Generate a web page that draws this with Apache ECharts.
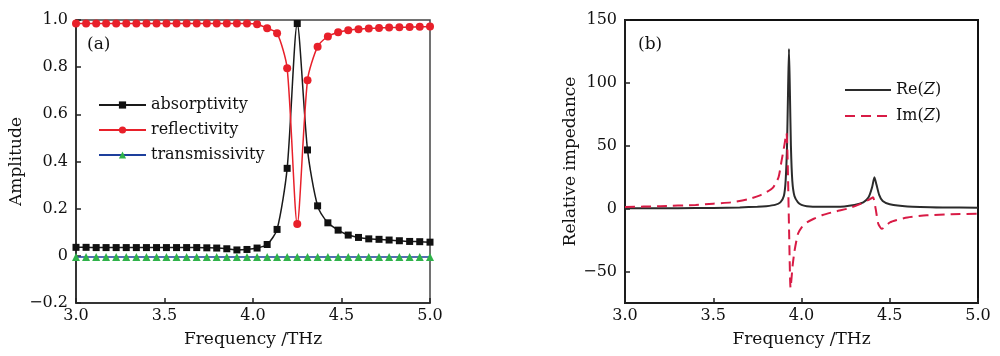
<!DOCTYPE html>
<html>
<head>
<meta charset="utf-8">
<script src="https://cdn.jsdelivr.net/npm/echarts@6/dist/echarts.min.js"></script>
<style>
  html, body { margin: 0; padding: 0; background: #fff; }
  #chart { width: 1000px; height: 356px; }
</style>
</head>
<body>
<div id="chart"></div>
<script>
// panel (a): sampled spectrum with markers
var freqA = [3.000, 3.057, 3.114, 3.170, 3.227, 3.284, 3.341, 3.398, 3.455, 3.511,
             3.568, 3.625, 3.682, 3.739, 3.795, 3.852, 3.909, 3.966, 4.023, 4.080,
             4.136, 4.193, 4.250, 4.308, 4.365, 4.423, 4.481, 4.538, 4.596, 4.654,
             4.712, 4.769, 4.827, 4.885, 4.942, 5.000];
var absorptivity = [0.036, 0.036, 0.035, 0.035, 0.035, 0.035, 0.035, 0.035, 0.035, 0.035,
                    0.035, 0.035, 0.035, 0.034, 0.033, 0.030, 0.025, 0.027, 0.033, 0.048,
                    0.112, 0.371, 0.985, 0.449, 0.212, 0.140, 0.109, 0.088, 0.078, 0.072,
                    0.070, 0.067, 0.064, 0.061, 0.060, 0.058];
var reflectivity = [0.985, 0.985, 0.985, 0.985, 0.985, 0.985, 0.985, 0.985, 0.985, 0.985,
                    0.985, 0.985, 0.985, 0.985, 0.985, 0.985, 0.985, 0.985, 0.982, 0.965,
                    0.944, 0.795, 0.135, 0.745, 0.887, 0.930, 0.948, 0.957, 0.961, 0.964,
                    0.966, 0.968, 0.969, 0.970, 0.971, 0.972];
var transmissivity = [-0.005, -0.005, -0.005, -0.005, -0.005, -0.005, -0.005, -0.005, -0.005, -0.005,
                      -0.005, -0.005, -0.005, -0.005, -0.005, -0.005, -0.005, -0.005, -0.005, -0.005,
                      -0.005, -0.005, -0.005, -0.005, -0.005, -0.005, -0.005, -0.005, -0.005, -0.005,
                      -0.005, -0.005, -0.005, -0.005, -0.005, -0.005];

// panel (b): relative impedance
var freqRe = [3.00, 3.30, 3.50, 3.65, 3.75, 3.80, 3.85, 3.88, 3.90, 3.910, 3.918, 3.924,
              3.929, 3.934, 3.940, 3.948, 3.960, 3.980, 4.00, 4.03, 4.10, 4.20, 4.30, 4.35,
              4.38, 4.40, 4.413, 4.425, 4.44, 4.46, 4.50, 4.60, 4.80, 5.00];
var reZ = [0.3, 0.4, 0.6, 1.0, 1.5, 2.0, 3.0, 5.0, 10, 22, 50, 95,
           127, 95, 50, 22, 10, 5.0, 3.0, 2.0, 1.5, 1.5, 3.0, 5.0,
           9, 17, 25, 19, 11, 6, 3.5, 1.8, 1.0, 0.7];
var freqIm = [3.00, 3.20, 3.40, 3.50, 3.60, 3.70, 3.765, 3.80, 3.84, 3.87, 3.887, 3.90,
              3.915, 3.922, 3.930, 3.938, 3.950, 3.960, 3.980, 4.00, 4.03, 4.07, 4.12, 4.20,
              4.26, 4.32, 4.38, 4.405, 4.42, 4.435, 4.455, 4.50, 4.54, 4.60, 4.71, 4.85, 5.00];
var imZ = [1.3, 2.0, 3.0, 4.0, 5.0, 7.5, 10.6, 13, 17, 25, 38, 48,
           60, 35, -20, -63, -45, -34, -20, -15, -11, -8, -5, -2,
           0, 3, 7, 9, 0, -12, -16, -11, -9, -7, -5.3, -4.5, -4.0];

var serif = 'DejaVu Serif';

function pairs(xs, ys) {
  return xs.map(function (x, i) { return [x, ys[i]]; });
}

var myChart = echarts.init(document.getElementById('chart'));

var axisCommon = {
  axisLine: { show: true, onZero: false, lineStyle: { color: '#222', width: 1.5 } },
  axisTick: { show: true, inside: true, length: 5, lineStyle: { color: '#222', width: 1.5 } },
  splitLine: { show: false },
  axisLabel: { color: '#111', fontFamily: serif, fontSize: 16 },
  nameTextStyle: { color: '#111', fontFamily: serif, fontSize: 17 }
};

var option = {
  animation: false,
  backgroundColor: '#fff',
  title: [
    { text: '(a)', left: 82, top: 31, textStyle: { fontFamily: serif, fontSize: 17, fontWeight: 'normal', color: '#111' } },
    { text: '(b)', left: 633, top: 31, textStyle: { fontFamily: serif, fontSize: 17, fontWeight: 'normal', color: '#111' } }
  ],
  grid: [
    { left: 76, top: 20, width: 354, height: 283, show: true, borderColor: '#444', borderWidth: 1.5 },
    { left: 625, top: 20, width: 353, height: 283, show: true, borderColor: '#111', borderWidth: 2 }
  ],
  legend: [
    {
      orient: 'vertical', left: 93, top: 92, itemWidth: 47, itemHeight: 9, itemGap: 9,
      data: ['absorptivity', 'reflectivity', 'transmissivity'],
      textStyle: { fontFamily: serif, fontSize: 16, color: '#111' }
    },
    {
      orient: 'vertical', left: 839, top: 77, itemWidth: 46, itemHeight: 10, itemGap: 10,
      data: ['Re(Z)', 'Im(Z)'],
      itemStyle: { opacity: 0 },
      formatter: function (name) { return name.slice(0, 2) + '({z|Z})'; },
      textStyle: {
        fontFamily: serif, fontSize: 16, color: '#111',
        rich: { z: { fontFamily: serif, fontSize: 16, fontStyle: 'italic', color: '#111' } }
      }
    }
  ],
  xAxis: [
    Object.assign({}, axisCommon, {
      type: 'value', gridIndex: 0, min: 3, max: 5, interval: 0.5,
      name: 'Frequency /THz', nameLocation: 'middle', nameGap: 28,
      axisLabel: Object.assign({}, axisCommon.axisLabel, { margin: 5, formatter: function (v) { return v.toFixed(1); } })
    }),
    Object.assign({}, axisCommon, {
      type: 'value', gridIndex: 1, min: 3, max: 5, interval: 0.5,
      name: 'Frequency /THz', nameLocation: 'middle', nameGap: 28,
      axisLabel: Object.assign({}, axisCommon.axisLabel, { margin: 5, formatter: function (v) { return v.toFixed(1); } })
    })
  ],
  yAxis: [
    Object.assign({}, axisCommon, {
      type: 'value', gridIndex: 0, min: -0.2, max: 1.0, interval: 0.2,
      name: 'Amplitude', nameLocation: 'middle', nameGap: 49,
      axisLabel: Object.assign({}, axisCommon.axisLabel, {
        margin: 8,
        formatter: function (v) {
          if (Math.abs(v) < 1e-9) return '0';
          return v.toFixed(1).replace('-', '\u2212');
        }
      })
    }),
    Object.assign({}, axisCommon, {
      type: 'value', gridIndex: 1, min: -75, max: 150, splitNumber: 5,
      name: 'Relative impedance', nameLocation: 'middle', nameGap: 46,
      axisLabel: Object.assign({}, axisCommon.axisLabel, {
        margin: 8, showMinLabel: false,
        formatter: function (v) {
          if (v === -75) return '';
          return String(v).replace('-', '\u2212');
        }
      })
    })
  ],
  series: [
    {
      name: 'absorptivity', type: 'line', xAxisIndex: 0, yAxisIndex: 0,
      data: pairs(freqA, absorptivity), smooth: 0.25,
      symbol: 'rect', symbolSize: 7,
      lineStyle: { color: '#1a1a1a', width: 1.5 },
      itemStyle: { color: '#111' }
    },
    {
      name: 'reflectivity', type: 'line', xAxisIndex: 0, yAxisIndex: 0,
      data: pairs(freqA, reflectivity), smooth: 0.25,
      symbol: 'circle', symbolSize: 8,
      lineStyle: { color: '#e8202a', width: 1.5 },
      itemStyle: { color: '#e8202a' }
    },
    {
      name: 'transmissivity', type: 'line', xAxisIndex: 0, yAxisIndex: 0,
      data: pairs(freqA, transmissivity),
      symbol: 'triangle', symbolSize: 8,
      lineStyle: { color: '#1d3f9c', width: 1.5 },
      itemStyle: { color: '#2fb24a' }
    },
    {
      name: 'Re(Z)', type: 'line', xAxisIndex: 1, yAxisIndex: 1,
      data: pairs(freqRe, reZ), smooth: 0.2, showSymbol: false, symbol: 'none',
      lineStyle: { color: '#2b2b2b', width: 2 },
      itemStyle: { color: '#2b2b2b' }
    },
    {
      name: 'Im(Z)', type: 'line', xAxisIndex: 1, yAxisIndex: 1,
      data: pairs(freqIm, imZ), smooth: 0.2, showSymbol: false, symbol: 'none',
      lineStyle: { color: '#d81b45', width: 2, type: [10, 6] },
      itemStyle: { color: '#d81b45' }
    }
  ]
};

myChart.setOption(option);
</script>
</body>
</html>
